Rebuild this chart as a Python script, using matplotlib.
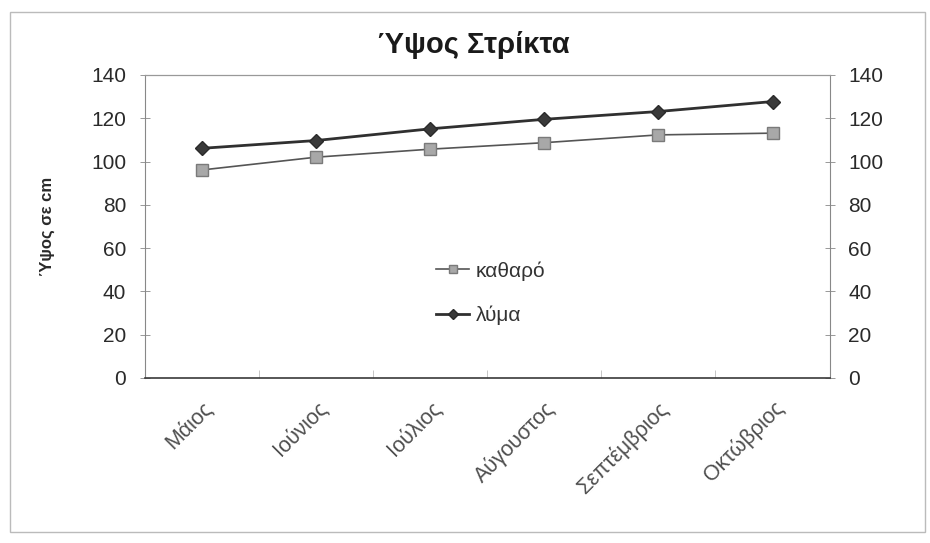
import matplotlib.pyplot as plt
from matplotlib.patches import Rectangle

# Ύψος φυτού ανά μήνα (cm)
months = ["Μάιος", "Ιούνιος", "Ιούλιος", "Αύγουστος", "Σεπτέμβριος", "Οκτώβριος"]
katharo = [96.1, 102.0, 105.7, 108.7, 112.3, 113.1]
lyma = [106.1, 109.7, 115.1, 119.5, 123.1, 127.7]
y_ticks = [0, 20, 40, 60, 80, 100, 120, 140]

plt.rcParams["font.family"] = ["Liberation Sans", "DejaVu Sans"]

fig = plt.figure(figsize=(9.3, 5.43), dpi=100)
ax = fig.add_axes([0.156, 0.304, 0.736, 0.558])

x = list(range(len(months)))
ax.plot(x, katharo, color="#555555", linewidth=1.2, marker="s", markersize=9,
        markerfacecolor="#a8a8a8", markeredgecolor="#7a7a7a", label="καθαρό")
ax.plot(x, lyma, color="#303030", linewidth=2.0, marker="D", markersize=7,
        markerfacecolor="#3a3a3a", markeredgecolor="#2a2a2a", label="λύμα")

ax.set_xlim(-0.5, len(months) - 0.5)
ax.set_ylim(0, 140)
ax.set_yticks(y_ticks)
ax.tick_params(axis="y", left=True, right=True, labelleft=True, labelright=True,
               direction="inout", length=7, width=0.6, color="#888888",
               labelsize=15, labelcolor="#2a2a2a", pad=10)

# κατηγορίες στο κέντρο, γραμμές υποδιαίρεσης στα όρια
ax.set_xticks(x)
ax.set_xticklabels(months, rotation=45, ha="right", rotation_mode="anchor",
                   fontsize=15.5, color="#505050")
ax.tick_params(axis="x", which="major", length=0, pad=14)
ax.set_xticks([i - 0.5 for i in range(len(months) + 1)], minor=True)
ax.tick_params(axis="x", which="minor", direction="in", length=6,
               width=0.6, color="#bbbbbb")

for side in ("left", "right"):
    ax.spines[side].set_color("#888888")
    ax.spines[side].set_linewidth(0.8)
ax.spines["top"].set_color("#999999")
ax.spines["top"].set_linewidth(0.9)
ax.spines["top"].set_linestyle((0, (6, 1)))
ax.spines["bottom"].set_color("#3a3a3a")
ax.spines["bottom"].set_linewidth(1.2)

ax.set_ylabel("Ύψος σε cm", fontsize=12, fontweight="bold", color="#2a2a2a",
              labelpad=26)

fig.text(0.509, 0.918, "Ύψος Στρίκτα", ha="center", va="center",
         fontsize=21, fontweight="semibold", color="#1a1a1a")

ax.legend(loc="center", bbox_to_anchor=(0.505, 0.28), frameon=False,
          fontsize=15, handlelength=1.6, handletextpad=0.3, labelspacing=1.2,
          markerscale=0.7, labelcolor="#333333")

# περίγραμμα περιοχής γραφήματος
fig.patches.append(Rectangle((0.011, 0.02), 0.984, 0.958, transform=fig.transFigure,
                             fill=False, edgecolor="#bbbbbb", linewidth=1.0))

fig.savefig("out.png", dpi=100, facecolor="white")
